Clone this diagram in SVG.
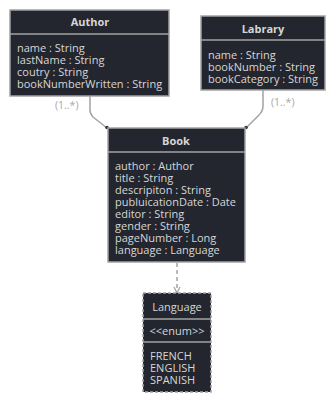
<svg xmlns="http://www.w3.org/2000/svg" width="336" height="402" viewBox="0 0 336 402">
  <style>
    .box { fill: #23262e; stroke: #a3a3a3; stroke-width: 1.5; }
    .div { stroke: #a3a3a3; stroke-width: 1.5; }
    .title { font-family: "Open Sans", "Noto Sans", sans-serif; font-size: 11px; font-weight: bold; fill: #d6d6d6; text-anchor: middle; }
    .attr { font-family: "Open Sans", "Noto Sans", sans-serif; font-size: 11px; fill: #d6d6d6; }
    .edge { fill: none; stroke: #a3a3a3; stroke-width: 1.5; }
    .mult { font-family: "Open Sans", "Noto Sans", sans-serif; font-size: 10.5px; fill: #a8a8a8; }
    .dash { stroke-dasharray: 4 3; }
  </style>
  <defs>
    <marker id="arrow" viewBox="0 0 8 8" refX="7" refY="4" markerWidth="8" markerHeight="8" orient="auto" markerUnits="userSpaceOnUse">
      <path d="M1,1 L7,4 L1,7" fill="none" stroke="#a3a3a3" stroke-width="1.3"/>
    </marker>
  </defs>
  <rect width="336" height="402" fill="#ffffff"/>

  <g id="connectors">
    <path class="edge" d="M90,96 V110 Q90,114 93,117 L107,128"/>
    <circle cx="107" cy="127.5" r="1.8" fill="#333"/>
    <path class="edge" d="M263,90 V106 Q263,111 259,115 L246,128"/>
    <circle cx="246" cy="127.5" r="1.8" fill="#333"/>
    <text class="mult" x="55" y="109">(1..*)</text>
    <text class="mult" x="271" y="106">(1..*)</text>
    <path class="edge dash" d="M177,263 V293" marker-end="url(#arrow)"/>
  </g>

  <g id="author">
    <rect class="box" x="10" y="10" width="159" height="86"/>
    <line class="div" x1="10" y1="34" x2="169" y2="34"/>
    <text class="title" x="90" y="26">Author</text>
    <text class="attr" y="52">
      <tspan x="17">name : String</tspan>
      <tspan x="17" dy="12">lastName : String</tspan>
      <tspan x="17" dy="12">coutry : String</tspan>
      <tspan x="17" dy="12">bookNumberWritten : String</tspan>
    </text>
  </g>

  <g id="labrary">
    <rect class="box" x="201" y="16" width="124" height="74"/>
    <line class="div" x1="201" y1="40" x2="325" y2="40"/>
    <text class="title" x="263" y="33">Labrary</text>
    <text class="attr" y="59">
      <tspan x="208">name : String</tspan>
      <tspan x="208" dy="12">bookNumber : String</tspan>
      <tspan x="208" dy="12">bookCategory : String</tspan>
    </text>
  </g>

  <g id="book">
    <rect class="box" x="108" y="128" width="137" height="134"/>
    <line class="div" x1="108" y1="152" x2="245" y2="152"/>
    <text class="title" x="176" y="145">Book</text>
    <text class="attr" y="170">
      <tspan x="115">author : Author</tspan>
      <tspan x="115" dy="12">title : String</tspan>
      <tspan x="115" dy="12">descripiton : String</tspan>
      <tspan x="115" dy="12">publuicationDate : Date</tspan>
      <tspan x="115" dy="12">editor : String</tspan>
      <tspan x="115" dy="12">gender : String</tspan>
      <tspan x="115" dy="12">pageNumber : Long</tspan>
      <tspan x="115" dy="12">language : Language</tspan>
    </text>
  </g>

  <g id="language">
    <rect class="box" x="143" y="293" width="68" height="99" stroke-dasharray="3 2"/>
    <line class="div" x1="143" y1="319" x2="211" y2="319"/>
    <line class="div" x1="143" y1="342" x2="211" y2="342"/>
    <text class="attr" x="177" y="311" text-anchor="middle">Language</text>
    <text class="attr" x="177" y="335" text-anchor="middle" font-size="9">&lt;&lt;enum&gt;&gt;</text>
    <text class="attr" y="360">
      <tspan x="150">FRENCH</tspan>
      <tspan x="150" dy="12">ENGLISH</tspan>
      <tspan x="150" dy="12">SPANISH</tspan>
    </text>
  </g>
</svg>
